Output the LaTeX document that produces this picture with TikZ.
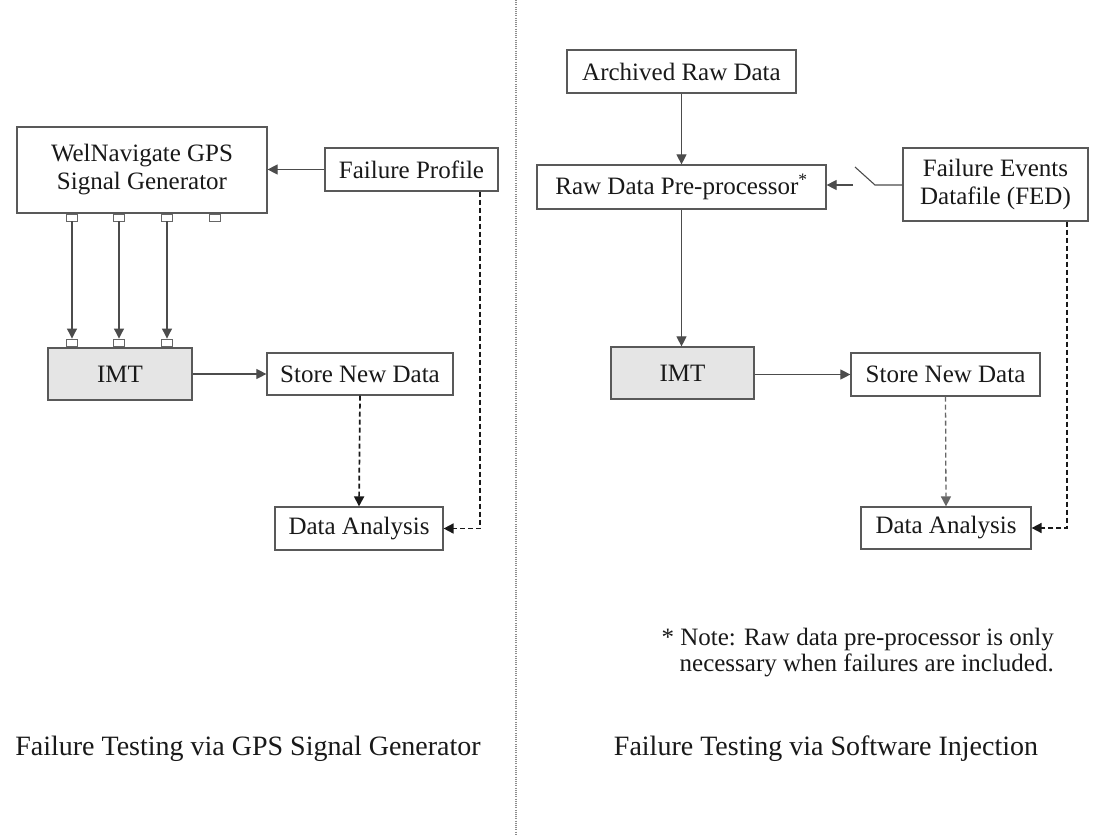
\documentclass[tikz,border=0pt]{standalone}
\usepackage{fontspec}
\setmainfont{Liberation Serif}
\usetikzlibrary{arrows.meta}
\begin{document}
\begin{tikzpicture}[x=1pt,y=-1pt,
  box/.style={draw=black!65,line width=1.2pt,inner sep=0pt,align=center,text=black!90,
    font=\fontsize{25}{28}\selectfont},
  imtbox/.style={box,fill=black!10},
  port/.style={draw=black!60,line width=0.9pt,fill=white,minimum width=11pt,minimum height=7pt,inner sep=0pt},
  solidarrow/.style={draw=black!70,line width=1.1pt,-{Triangle[length=10pt,width=10pt]}},
  plainline/.style={draw=black!70,line width=1.1pt},
  dasharrow/.style={draw=black!90,line width=1.7pt,dash pattern=on 5pt off 3pt,-{Triangle[length=10pt,width=10pt]}},
  lightdasharrow/.style={dasharrow,draw=black!60,line width=1.3pt},
  caption/.style={text=black!90,font=\fontsize{28}{30}\selectfont,inner sep=0pt},
  notetext/.style={text=black!90,font=\fontsize{25}{26}\selectfont,align=right,inner sep=0pt}
]
\useasboundingbox (0,0) rectangle (1094,835);
\fill[white] (0,0) rectangle (1094,835);

% divider
\draw[black!45,line width=2.5pt,dash pattern=on 1pt off 1.2pt] (516,0) -- (516,835);

% ---------- left ----------
\node[box,minimum width=250pt,minimum height=86pt] (gen) at (142,170) {WelNavigate GPS\\Signal Generator};
\node[box,minimum width=173pt,minimum height=43pt] (fp) at (411.5,169.5) {Failure Profile};
\node[imtbox,minimum width=144pt,minimum height=52pt] (imtL) at (120,374) {IMT};
\node[box,minimum width=186pt,minimum height=42pt] (storeL) at (360,374) {Store New Data};
\node[box,minimum width=168pt,minimum height=43pt] (daL) at (359,528.5) {Data Analysis};

\node[port] (p1) at (72,217.5) {};
\node[port] (p2) at (119,217.5) {};
\node[port] (p3) at (167,217.5) {};
\node[port] (p4) at (215,217.5) {};
\node[port] (q1) at (72,342.5) {};
\node[port] (q2) at (119,342.5) {};
\node[port] (q3) at (167,342.5) {};

\draw[solidarrow] (p1.south) -- (q1.north);
\draw[solidarrow] (p2.south) -- (q2.north);
\draw[solidarrow] (p3.south) -- (q3.north);
\draw[solidarrow] (fp.west) -- (gen.east |- fp.west);
\draw[solidarrow] (imtL.east) -- (storeL.west);
\draw[dasharrow] (storeL.south) -- (daL.north);
\coordinate (fpd) at (480,528.5);
\draw[dasharrow] (fp.south -| fpd) -- (fpd) -- (daL.east);

% ---------- right ----------
\node[box,minimum width=229pt,minimum height=43pt] (ard) at (681.5,71.5) {Archived Raw Data};
\node[box,minimum width=289pt,minimum height=44pt] (rdp) at (681.5,187) {Raw Data Pre-processor\textsuperscript{*}};
\node[box,minimum width=185pt,minimum height=73pt] (fed) at (995.5,184.5) {Failure Events\\Datafile (FED)};
\node[imtbox,minimum width=143pt,minimum height=52pt] (imtR) at (682.5,373) {IMT};
\node[box,minimum width=189pt,minimum height=43pt] (storeR) at (945.5,374.5) {Store New Data};
\node[box,minimum width=170pt,minimum height=42pt] (daR) at (946,528) {Data Analysis};

\draw[solidarrow] (ard.south) -- (rdp.north);
\draw[solidarrow] (rdp.south) -- (rdp.south |- imtR.north);
\draw[solidarrow] (imtR.east |- storeR.west) -- (storeR.west);
\draw[lightdasharrow] (storeR.south) -- (daR.north);
\coordinate (swa) at (875,185);
\coordinate (swb) at (855,167);
\coordinate (swc) at (853,185);
\draw[plainline] (fed.west |- swa) -- (swa) -- (swb);
\draw[solidarrow] (swc) -- (swc -| rdp.east);
\coordinate (fedd) at (1067,528);
\draw[dasharrow] (fed.south -| fedd) -- (fedd) -- (daR.east);

% ---------- texts ----------
\node[notetext,anchor=north east] (note) at (1054,628) {* Note: Raw data pre-processor is only\\necessary when failures are included.};
\node[caption,anchor=base] (capL) at (248,755) {Failure Testing via GPS Signal Generator};
\node[caption,anchor=base] (capR) at (826,755) {Failure Testing via Software Injection};
\end{tikzpicture}
\end{document}
